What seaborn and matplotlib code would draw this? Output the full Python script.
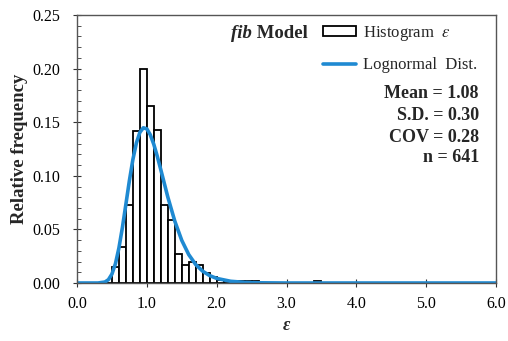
import pandas as pd
import matplotlib
matplotlib.use("Agg")
import matplotlib.pyplot as plt
import seaborn as sns
from matplotlib.patches import Patch
from matplotlib.lines import Line2D
from matplotlib.ticker import MultipleLocator, FormatStrFormatter

# histogram of epsilon (bin width 0.1, relative frequency)
bin_edges = [round(0.1 * i, 1) for i in range(61)]
rel_freq = [0, 0, 0, 0, 0,
            0.015, 0.034, 0.073, 0.142, 0.200,
            0.165, 0.143, 0.073, 0.059, 0.027,
            0.017, 0.020, 0.017, 0.009, 0.006,
            0.003, 0.0016, 0.0016, 0.0016, 0.0016,
            0.0016, 0, 0, 0, 0,
            0, 0, 0, 0, 0.0016,
            0, 0, 0, 0, 0,
            0, 0, 0, 0, 0,
            0, 0, 0, 0, 0,
            0, 0, 0, 0, 0,
            0, 0, 0, 0, 0]

# fitted lognormal curve
curve_x = [0.0, 0.3, 0.4, 0.45, 0.5, 0.55, 0.6, 0.65, 0.7, 0.75, 0.8, 0.85,
           0.9, 0.95, 1.0, 1.05, 1.1, 1.15, 1.2, 1.3, 1.4, 1.5, 1.6, 1.7,
           1.8, 1.9, 2.0, 2.2, 2.4, 2.6, 3.0, 6.0]
curve_y = [0.0, 0.0, 0.0009, 0.0031, 0.0083, 0.0179, 0.0326, 0.0517, 0.0734,
           0.0954, 0.1151, 0.1305, 0.1405, 0.1448, 0.1438, 0.1382, 0.1293,
           0.1181, 0.1057, 0.0803, 0.0578, 0.0398, 0.0265, 0.0172, 0.0110,
           0.0069, 0.0043, 0.0016, 0.0006, 0.0002, 0.0, 0.0]

stats_lines = ["Mean = 1.08", "S.D. = 0.30", "COV = 0.28", "n = 641"]

sns.set_style("ticks")
plt.rcParams['font.family'] = ['Liberation Serif', 'DejaVu Serif']
plt.rcParams['mathtext.fontset'] = 'stix'

W = 419  # axes width in px
fig = plt.figure(figsize=(5.08, 3.41), dpi=100)
ax = fig.add_axes([77/508, 1-283/341, W/508, 268/341])

centers = [(a + b) / 2 for a, b in zip(bin_edges[:-1], bin_edges[1:])]
df = pd.DataFrame({"eps": centers, "freq": rel_freq})
sns.histplot(data=df, x="eps", weights="freq", bins=bin_edges, color="white",
             edgecolor="black", linewidth=1.3, alpha=1, ax=ax)
blue = "#1f8ad2"
sns.lineplot(x=curve_x, y=curve_y, color=blue, linewidth=2.6, ax=ax)

ax.set_xlim(0, 6)
ax.set_ylim(0, 0.25)
ax.xaxis.set_major_locator(MultipleLocator(1.0))
ax.xaxis.set_major_formatter(FormatStrFormatter("%.1f"))
ax.yaxis.set_major_locator(MultipleLocator(0.05))
ax.yaxis.set_minor_locator(MultipleLocator(0.01))
ax.yaxis.set_major_formatter(FormatStrFormatter("%.2f"))
ax.tick_params(axis="both", which="major", direction="inout", length=6,
               labelsize=11.5, colors="#333333", labelcolor="black")
ax.tick_params(axis="y", which="major", pad=9)
ax.tick_params(axis="x", which="major", pad=6)
ax.tick_params(axis="y", which="minor", direction="in", length=3, color="#333333")
for s in ax.spines.values():
    s.set_color("#555555")
    s.set_linewidth(1.0)

ax.set_ylabel("Relative frequency", fontsize=13.5, fontweight="bold", labelpad=3)
ax.set_xlabel("ε", fontsize=13, fontweight="bold", style="italic", labelpad=4)

handles = [Patch(facecolor="white", edgecolor="black", linewidth=1.3),
           Line2D([0], [0], color=blue, linewidth=2.6)]
ax.legend(handles, [r"Histogram  $\varepsilon$", "Lognormal  Dist."],
          loc="upper left", bbox_to_anchor=((323-77)/W, (283-24)/268),
          frameon=False, fontsize=12, borderpad=0, borderaxespad=0,
          handlelength=2.0, handleheight=0.5, handletextpad=0.4,
          labelspacing=0.85)

t = ax.text((252-77)/W, (283-33)/268, "fib", transform=ax.transAxes,
            ha="right", va="center", fontsize=13.5, fontweight="bold", style="italic")
ax.annotate(" Model", xy=(1, 0.5), xycoords=t, ha="left", va="center",
            fontsize=13.5, fontweight="bold")

ys = [93, 115, 137, 157]
for line, y in zip(stats_lines, ys):
    ax.text((479-77)/W, (283-y)/268, line, transform=ax.transAxes,
            ha="right", va="center", fontsize=13, fontweight="bold")

fig.savefig("out.png", dpi=100)
